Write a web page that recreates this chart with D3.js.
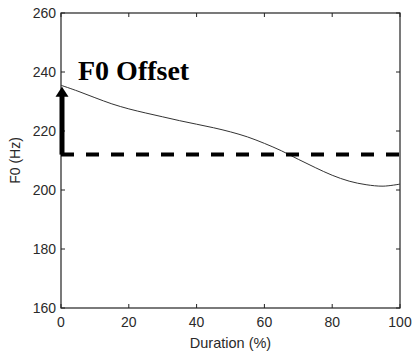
<!DOCTYPE html>
<html><head><meta charset="utf-8">
<script src="https://cdn.jsdelivr.net/npm/d3@7"></script>
<style>html,body{margin:0;padding:0;background:#fff;}svg{display:block;}</style>
</head><body>
<script>
const durations = [0,5,10,15,20,25,30,35,40,45,50,55,60,65,70,75,80,85,90,95,100];
const f0Values = [235.5,233.5,231.3,229.2,227.5,226.1,224.8,223.5,222.3,221.1,219.7,218,215.8,213.3,210.4,207.6,205,203,201.8,201.3,202];
const offsetLevel = [212];
const offsetTop = [235];
const xTicks = [0,20,40,60,80,100];
const yTicks = [160,180,200,220,240,260];

const W = 412, H = 354;
const m = {left:61, right:400, top:13, bottom:308};
const svg = d3.select("body").append("svg").attr("width",W).attr("height",H);
const x = d3.scaleLinear().domain([0,100]).range([m.left,m.right]);
const y = d3.scaleLinear().domain([160,260]).range([m.bottom,m.top]);

const font = "Liberation Sans, Arial, sans-serif";
const axisColor = "#222";
const textColor = "#2a2a2a";

svg.append("rect").attr("x",m.left).attr("y",m.top).attr("width",m.right-m.left).attr("height",m.bottom-m.top)
  .attr("fill","none").attr("stroke",axisColor).attr("stroke-width",1.2);

const tl = 4;
xTicks.forEach(t=>{
  svg.append("line").attr("x1",x(t)).attr("x2",x(t)).attr("y1",m.bottom).attr("y2",m.bottom-tl).attr("stroke",axisColor);
  svg.append("line").attr("x1",x(t)).attr("x2",x(t)).attr("y1",m.top).attr("y2",m.top+tl).attr("stroke",axisColor);
  svg.append("text").attr("x",x(t)).attr("y",m.bottom+19).attr("text-anchor","middle")
    .attr("font-family",font).attr("font-size",14).attr("fill",textColor).text(t);
});
yTicks.forEach(t=>{
  svg.append("line").attr("x1",m.left).attr("x2",m.left+tl).attr("y1",y(t)).attr("y2",y(t)).attr("stroke",axisColor);
  svg.append("line").attr("x1",m.right).attr("x2",m.right-tl).attr("y1",y(t)).attr("y2",y(t)).attr("stroke",axisColor);
  svg.append("text").attr("x",m.left-5).attr("y",y(t)+5).attr("text-anchor","end")
    .attr("font-family",font).attr("font-size",14).attr("fill",textColor).text(t);
});

svg.append("text").attr("x",(m.left+m.right)/2).attr("y",348).attr("text-anchor","middle")
  .attr("font-family",font).attr("font-size",14.5).attr("fill",textColor).text("Duration (%)");
svg.append("text").attr("transform",`translate(20,${(m.top+m.bottom)/2}) rotate(-90)`).attr("text-anchor","middle")
  .attr("font-family",font).attr("font-size",14).attr("fill",textColor).text("F0 (Hz)");

const line = d3.line().x((d,i)=>x(durations[i])).y(d=>y(d)).curve(d3.curveCatmullRom);
svg.append("path").datum(f0Values).attr("d",line).attr("fill","none").attr("stroke","#333").attr("stroke-width",1);

svg.append("line").attr("x1",x(0)).attr("x2",x(100)).attr("y1",y(offsetLevel[0])).attr("y2",y(offsetLevel[0]))
  .attr("stroke","#000").attr("stroke-width",4).attr("stroke-dasharray","13,12");

const ax = x(0)+1;
const tipY = y(offsetTop[0]);
svg.append("line").attr("x1",ax).attr("x2",ax).attr("y1",y(offsetLevel[0])).attr("y2",tipY+8)
  .attr("stroke","#000").attr("stroke-width",5);
svg.append("path").attr("d",`M${ax},${tipY} L${ax-6.5},${tipY+10} L${ax+6.5},${tipY+10} Z`).attr("fill","#000");

svg.append("text").attr("x",78).attr("y",80).attr("font-family","Liberation Serif, Times New Roman, serif")
  .attr("font-weight","bold").attr("font-size",28).attr("fill","#000").text("F0 Offset");
</script>
</body></html>
